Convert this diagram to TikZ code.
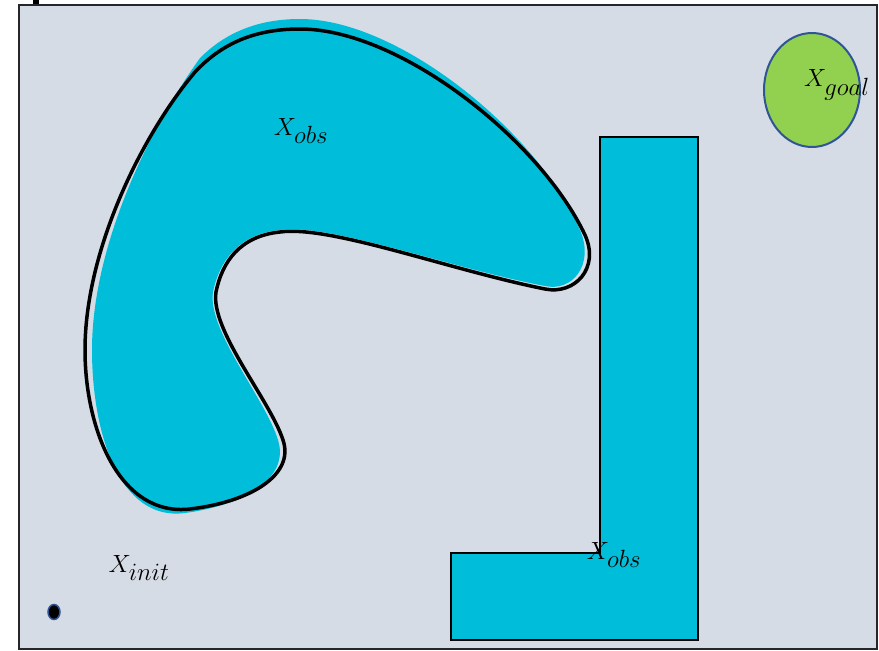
\documentclass[tikz,border=0pt]{standalone}
\usepackage{amsmath}
\usepackage{tikz}
\usetikzlibrary{positioning}

\definecolor{bgblue}{HTML}{D6DCE5}
\definecolor{obscyan}{HTML}{00BED9}
\definecolor{goalgreen}{HTML}{92D050}
\definecolor{rimblue}{HTML}{2F5597}

\begin{document}
\begin{tikzpicture}[
  x=1pt, y=-1pt,
  label/.style = {inner sep=0pt, font=\fontsize{33}{38}\selectfont},
  rim/.style   = {draw=black, line width=3.5pt, line join=round},
]
\useasboundingbox (0,0) rectangle (879,651);

%--- workspace ---
  \fill[black] (33,0) rectangle (39,6);
  \draw[fill=bgblue, draw=black!85, line width=2pt] (19,5) rectangle (877,649);

%--- curved obstacle ---
  \fill[obscyan] (300,19)
    .. controls (400,19) and (540,135) .. (580,230)
    .. controls (595,265) and (572,292) .. (545,286)
    .. controls (450,268) and (330,223) .. (280,230)
    .. controls (238,234) and (219,262) .. (213,292)
    .. controls (207,330) and (266,400) .. (278,440)
    .. controls (290,478) and (245,505) .. (185,513)
    .. controls (118,522) and (92,430) .. (92,350)
    .. controls (92,250) and (145,135) .. (200,58)
    .. controls (228,30) and (262,19) .. (300,19) -- cycle;
  \draw[rim] (300,29)
    .. controls (400,29) and (540,140) .. (585,235)
    .. controls (600,268) and (575,295) .. (545,289)
    .. controls (450,270) and (330,225) .. (280,232)
    .. controls (240,236) and (222,262) .. (216,292)
    .. controls (210,330) and (270,400) .. (283,440)
    .. controls (295,475) and (250,502) .. (190,509)
    .. controls (120,517) and (85,430) .. (85,350)
    .. controls (85,250) and (142,135) .. (195,72)
    .. controls (225,40) and (260,29) .. (300,29) -- cycle;

%--- L-shaped obstacle ---
  \draw[fill=obscyan, draw=black, line width=2.8pt]
    (451,553) -- (600,553) -- (600,137) -- (698,137) -- (698,640) -- (451,640) -- cycle;

%--- goal region and start ---
  \draw[fill=goalgreen, draw=rimblue, line width=2pt] (812,90) ellipse [x radius=48, y radius=57];
  \draw[fill=black, draw=rimblue, line width=1.5pt] (54,612) ellipse [x radius=6, y radius=7.5];

%--- labels ---
  \node[label] (obsa)  at (301,131) {$X_{obs}$};
  \node[label] (obsb)  at (614,555) {$X_{obs}$};
  \node[label] (init)  at (139,568) {$X_{init}$};
  \node[label] (goal)  at (837,85)  {$X_{goal}$};
\end{tikzpicture}
\end{document}
